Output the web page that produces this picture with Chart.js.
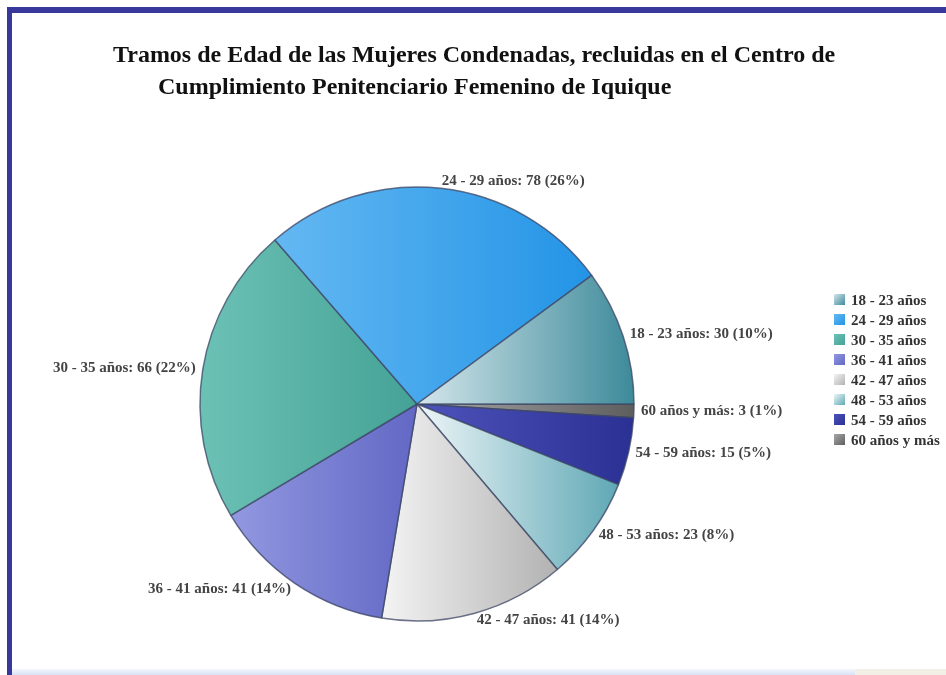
<!DOCTYPE html>
<html>
<head>
<meta charset="utf-8">
<script src="https://cdn.jsdelivr.net/npm/chart.js@4"></script>
<style>
  html, body { margin: 0; padding: 0; background: #fff; }
  #wrap { position: relative; width: 946px; height: 675px; overflow: hidden; background: #fff; }
  #frameTop { position: absolute; left: 7px; top: 7px; width: 939px; height: 6px; background: #38389c; }
  #frameLeft { position: absolute; left: 7px; top: 7px; width: 5px; height: 668px; background: #38389c; }
  #bottomStripA { position: absolute; left: 12px; top: 669px; width: 843px; height: 6px; background: linear-gradient(#f4f6fb, #d9e2f6); }
  #bottomStripB { position: absolute; left: 855px; top: 669px; width: 91px; height: 6px; background: #f1efe6; }
  .title { position: absolute; font-family: "Liberation Serif", "Times New Roman", serif; font-weight: bold; font-size: 24px; line-height: 24px; color: #111; white-space: nowrap; }
  #legend { position: absolute; left: 834px; top: 290px; font-family: "Liberation Serif", serif; font-weight: bold; font-size: 15px; color: #333; }
  .li { position: relative; height: 20px; line-height: 20px; white-space: nowrap; }
  .li .box { position: absolute; left: 0; top: 4px; width: 11px; height: 11px; }
  .li .tx { position: absolute; left: 17px; top: 0; }
  canvas { position: absolute; left: 0; top: 0; }
</style>
</head>
<body>
<div id="wrap">
  <canvas id="c" width="946" height="675"></canvas>
  <div id="frameTop"></div>
  <div id="frameLeft"></div>
  <div id="bottomStripA"></div>
  <div id="bottomStripB"></div>
  <div class="title" id="t1" style="left:113px; top:42px;">Tramos de Edad de las Mujeres Condenadas, recluidas en el Centro de</div>
  <div class="title" id="t2" style="left:158px; top:74px;">Cumplimiento Penitenciario Femenino de Iquique</div>
  <div id="legend"></div>
</div>
<script>
// ---- data ----
const categories = ['18 - 23 años', '24 - 29 años', '30 - 35 años', '36 - 41 años', '42 - 47 años', '48 - 53 años', '54 - 59 años', '60 años y más'];
const values = [30, 78, 66, 41, 41, 23, 15, 3];
const lightColors = ['#d4e6eb', '#64b8f2', '#6cc1b5', '#9298e0', '#f4f4f4', '#eef6f8', '#4d53ba', '#a8a8a8'];
const darkColors  = ['#3d8a9a', '#2394e6', '#45a296', '#6268c4', '#b2b2b2', '#5fa8b5', '#2b3094', '#5e5e5e'];

const RADIUS = 217;
const total = values.reduce((a, b) => a + b, 0);

// Chart.js draws clockwise; the reference runs counter-clockwise from 3 o'clock,
// so the slices are fed in reverse order starting at 3 o'clock.
const order = categories.map((_, i) => categories.length - 1 - i);
const dsLabels = order.map(i => categories[i]);
const dsValues = order.map(i => values[i]);

function sliceGradient(ctx) {
  const k = ctx.dataIndex;
  const src = order[k];
  const chart = ctx.chart;
  const a = chart.chartArea;
  if (!a) return darkColors[src];
  const cx = (a.left + a.right) / 2;
  let before = 0;
  for (let j = 0; j < k; j++) before += dsValues[j];
  const s = before / total * Math.PI * 2;
  const e = (before + dsValues[k]) / total * Math.PI * 2;
  let minX = cx, maxX = cx;
  for (let t = 0; t <= 40; t++) {
    const ang = s + (e - s) * t / 40;
    const x = cx + RADIUS * Math.cos(ang);
    minX = Math.min(minX, x); maxX = Math.max(maxX, x);
  }
  if (maxX - minX < 2) { maxX = minX + 2; }
  const g = chart.ctx.createLinearGradient(minX, 0, maxX, 0);
  g.addColorStop(0, lightColors[src]);
  g.addColorStop(1, darkColors[src]);
  return g;
}

const labelPlugin = {
  id: 'sliceLabels',
  afterDatasetsDraw(chart) {
    const meta = chart.getDatasetMeta(0);
    const c = chart.ctx;
    c.save();
    c.font = 'bold 15px "Liberation Serif", serif';
    c.fillStyle = '#444';
    c.textBaseline = 'middle';
    meta.data.forEach((el, k) => {
      const src = order[k];
      const mid = (el.startAngle + el.endAngle) / 2;
      const r = el.outerRadius + 7;
      const x = el.x + r * Math.cos(mid);
      const y = el.y + r * Math.sin(mid);
      c.textAlign = Math.cos(mid) >= 0 ? 'left' : 'right';
      const pct = Math.round(values[src] / total * 100);
      c.fillText(categories[src] + ': ' + values[src] + ' (' + pct + '%)', x, y);
    });
    c.restore();
  }
};

new Chart(document.getElementById('c'), {
  type: 'pie',
  data: {
    labels: dsLabels,
    datasets: [{
      data: dsValues,
      backgroundColor: sliceGradient,
      borderColor: 'rgba(60,70,100,0.75)',
      borderWidth: 1.5,
      radius: RADIUS
    }]
  },
  options: {
    responsive: false,
    animation: false,
    rotation: 90,
    layout: { padding: { left: 0, right: 112, top: 187, bottom: 54 } },
    plugins: {
      legend: { display: false },
      tooltip: { enabled: false },
      title: { display: false }
    }
  },
  plugins: [labelPlugin]
});

// legend built from the same arrays
const lg = document.getElementById('legend');
categories.forEach((name, i) => {
  const row = document.createElement('div');
  row.className = 'li';
  const b = document.createElement('span');
  b.className = 'box';
  b.style.background = 'linear-gradient(135deg, ' + lightColors[i] + ', ' + darkColors[i] + ')';
  const t = document.createElement('span');
  t.className = 'tx';
  t.textContent = name;
  row.appendChild(b); row.appendChild(t);
  lg.appendChild(row);
});
</script>
</body>
</html>
